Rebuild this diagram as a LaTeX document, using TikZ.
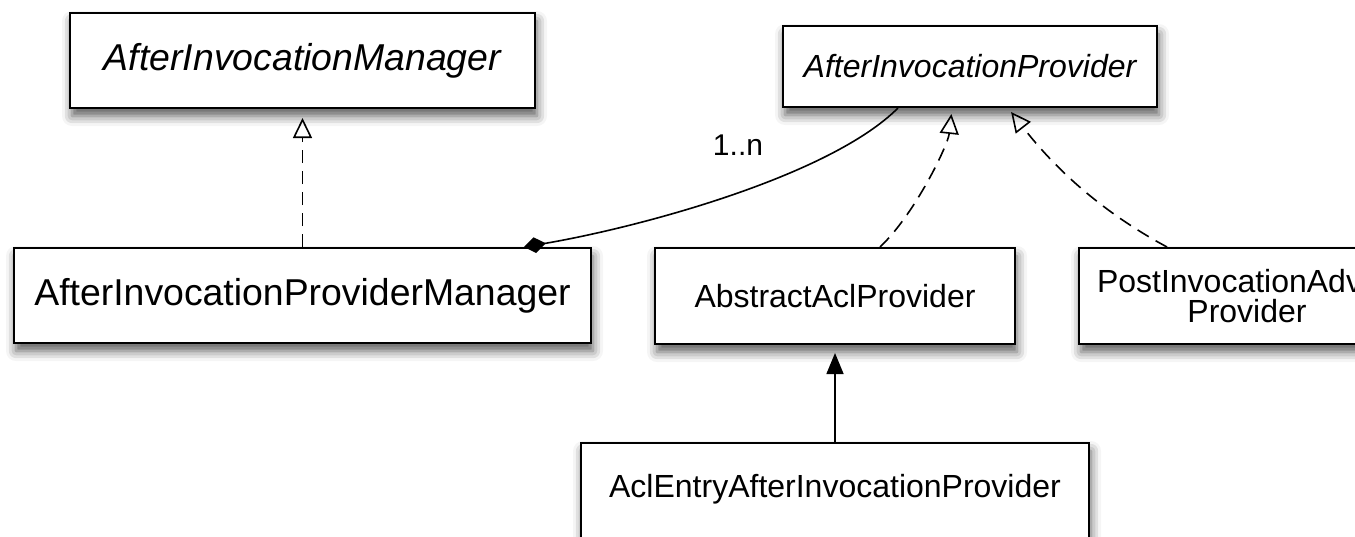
\documentclass[tikz,border=0pt]{standalone}
\usepackage{fontspec}
\setmainfont{Liberation Sans}
\usetikzlibrary{arrows.meta, shadows.blur}

\tikzset{
  cls/.style={draw, line width=1pt, fill=white, inner sep=0pt,
    blur shadow={shadow xshift=1pt, shadow yshift=-4pt, shadow blur radius=5pt, shadow opacity=65}},
  bigtxt/.style={font=\fontsize{18.7}{22}\selectfont},
  smalltxt/.style={font=\fontsize{16}{15}\selectfont},
  realize/.style={line width=0.8pt, dash pattern=on 6.5pt off 4pt, -{Triangle[open, width=9.5pt, length=10pt, line width=0.8pt]}},
}

\begin{document}
\begin{tikzpicture}[x=0.5pt, y=-0.5pt]
        \path[use as bounding box, clip] (0,0) rectangle (1355,536);

        \node[cls, bigtxt, minimum width=232.5pt, minimum height=47.5pt] (aim) at (302.5, 60.5) {\itshape AfterInvocationManager};
        \node[cls, smalltxt, minimum width=187pt, minimum height=40.5pt] (aip) at (970, 66.5) {\itshape AfterInvocationProvider};
        \node[cls, bigtxt, minimum width=288.5pt, minimum height=47.5pt] (aipm) at (302.5, 295.5) {AfterInvocationProviderManager};
        \node[cls, smalltxt, minimum width=180pt, minimum height=48pt] (aap) at (835, 296) {AbstractAclProvider};
        \node[cls, smalltxt, text width=150pt, inner xsep=9pt, align=center, minimum height=48pt] (post) at (1247, 296) {\mbox{PostInvocationAdvice}\\Provider};
        \node[cls, smalltxt, minimum width=254pt, text height=27pt, text depth=24pt, anchor=base] (acl) at (835, 497) {AclEntryAfterInvocationProvider};
        \node[font=\fontsize{15}{18}\selectfont] (mult) at (738, 145) {1..n};

        \draw[realize, shorten >=4.5pt] (aipm.north) -- (aim.south);
        \draw[line width=0.8pt, -{Diamond[width=8pt, length=11pt]}] ([xshift=-36pt]aip.south) .. controls +(-68,68) and +(117,-20) .. ([xshift=-34pt]aipm.north east);
        \draw[realize, shorten >=3pt] ([xshift=22.5pt]aap.north) .. controls +(35,-33) and +(-4,37) .. ([xshift=-9pt]aip.south);
        \draw[realize, shorten >=2.5pt] ([xshift=-40pt]post.north) .. controls +(-80,-43) and +(35,45) .. ([xshift=19pt]aip.south);
        \draw[line width=0.8pt, -{Triangle[width=8.5pt, length=10.5pt]}, shorten >=4pt] (acl.north) -- (aap.south);
\end{tikzpicture}
\end{document}
